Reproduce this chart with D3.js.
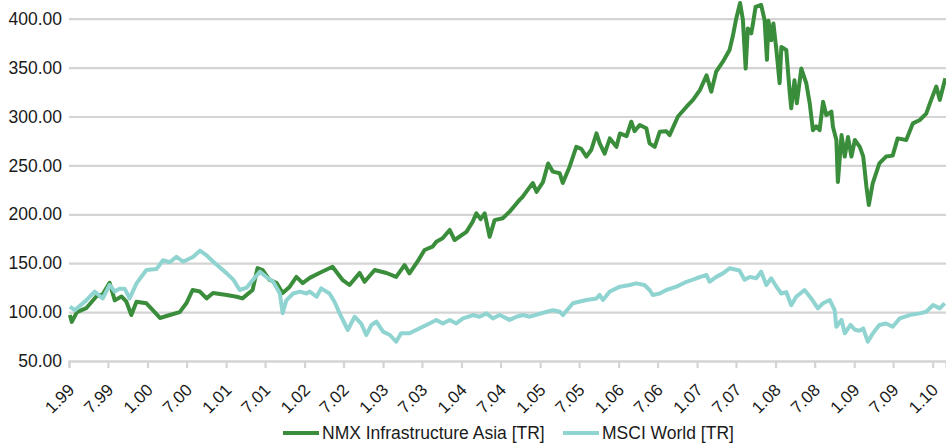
<!DOCTYPE html>
<html>
<head>
<meta charset="utf-8">
<script src="https://cdnjs.cloudflare.com/ajax/libs/d3/7.8.5/d3.min.js"></script>
<style>
  body { margin: 0; background: #fff; }
  text { font-family: "Liberation Sans", Arial, sans-serif; fill: #1a1a1a; }
</style>
</head>
<body>
<div id="chart"></div>
<script>
///////////// data /////////////
var nmxDates = ['1999-01-05','1999-01-14','1999-02-07','1999-03-22','1999-05-08','1999-06-06','1999-07-09','1999-08-02','1999-09-02','1999-09-25',
  '1999-10-18','1999-11-11','1999-12-27','2000-01-26','2000-02-28','2000-04-14','2000-05-30','2000-06-30','2000-07-29','2000-09-01',
  '2000-10-02','2000-11-01','2001-01-04','2001-02-19','2001-03-18','2001-05-04','2001-05-27','2001-06-20','2001-07-22','2001-08-23',
  '2001-09-21','2001-10-24','2001-11-24','2001-12-23','2002-01-25','2002-03-11','2002-05-11','2002-06-26','2002-07-29','2002-09-14',
  '2002-10-07','2002-11-23','2003-01-17','2003-03-03','2003-04-11','2003-05-04','2003-06-10','2003-07-13','2003-08-19','2003-09-06',
  '2003-10-05','2003-11-07','2003-11-30','2004-01-24','2004-02-22','2004-03-10','2004-03-30','2004-04-18','2004-05-11','2004-06-03',
  '2004-07-11','2004-08-12','2004-09-13','2004-09-28','2004-10-12','2004-11-14','2004-11-28','2004-12-15','2005-01-14','2005-02-07',
  '2005-03-01','2005-04-02','2005-04-16','2005-05-18','2005-06-18','2005-07-11','2005-08-04','2005-08-27','2005-09-20','2005-10-05',
  '2005-10-28','2005-11-21','2005-12-22','2006-01-07','2006-02-07','2006-03-01','2006-03-16','2006-04-09','2006-05-10','2006-05-25',
  '2006-06-18','2006-07-11','2006-08-11','2006-08-26','2006-10-04','2006-11-13','2006-12-13','2007-01-14','2007-02-14','2007-03-08',
  '2007-03-31','2007-05-01','2007-06-01','2007-06-16','2007-07-02','2007-07-20','2007-08-02','2007-08-15','2007-08-25','2007-09-10',
  '2007-09-17','2007-09-30','2007-10-26','2007-11-11','2007-11-22','2007-11-29','2007-12-12','2007-12-22','2008-01-05','2008-01-20',
  '2008-01-28','2008-02-20','2008-03-06','2008-03-14','2008-03-29','2008-04-09','2008-04-30','2008-05-23','2008-06-08','2008-06-23',
  '2008-07-08','2008-07-24','2008-08-09','2008-08-24','2008-09-17','2008-09-24','2008-10-10','2008-10-17','2008-11-03','2008-11-18',
  '2008-12-03','2008-12-19','2009-01-04','2009-01-27','2009-02-12','2009-02-27','2009-03-10','2009-03-28','2009-04-28','2009-05-29',
  '2009-06-29','2009-07-22','2009-08-31','2009-10-01','2009-11-02','2009-12-02','2009-12-25','2010-01-18','2010-02-03','2010-03-01'];
var nmxValues = [97,90,100,104,116,118,130,112,116,110.6,
  97,110.6,109,102,94,97,100,109,122.6,121,
  114,119.5,117.5,115.7,114,122.6,145,143,133,130,
  119.5,126,136,129.7,135,140,146.4,133,127.7,140,
  131,143,140,136,148,139.6,151.5,163.5,166.9,172,
  175.5,184,173.7,182,192.4,201,195,201,177,194,
  196,202.7,211,215,218,228,232,223,233,252,
  243.6,242,232,248.7,269,267,259,266,282.7,272.6,
  262,277.6,269,282.7,280,294.7,285,291.3,288,272.6,
  269,284.4,285,281,300,310,317,327,342,325.4,
  346,356,368,382,400,416,399,349,390,385,
  393.6,412,414,398.7,358,398,378,395,368,334,
  371,368,327,308.4,337,313.5,349,334,313.5,286,
  290,286,315,301.5,305,289.5,276,233,281,259,
  279,259,276,269,259,228,209.5,231.7,252,259,
  260,277.6,276,293,296.4,303,317,330.6,317,339];

var msciDates = ['1999-01-05','1999-01-28','1999-03-22','1999-04-30','1999-06-07','1999-07-09','1999-08-02','1999-08-24','1999-09-17','1999-10-10',
  '1999-11-11','1999-12-27','2000-02-12','2000-03-13','2000-04-14','2000-05-15','2000-06-15','2000-08-01','2000-09-01','2000-10-02',
  '2000-11-02','2001-01-04','2001-02-04','2001-03-05','2001-04-06','2001-05-06','2001-06-07','2001-07-07','2001-08-08','2001-09-08',
  '2001-09-21','2001-10-08','2001-11-09','2001-12-10','2002-01-10','2002-01-25','2002-02-26','2002-03-19','2002-04-27','2002-05-20',
  '2002-06-13','2002-07-21','2002-08-22','2002-09-22','2002-10-15','2002-11-08','2002-12-01','2003-01-01','2003-02-02','2003-03-03',
  '2003-03-26','2003-05-04','2003-06-04','2003-07-05','2003-08-05','2003-09-06','2003-10-06','2003-11-07','2003-12-08','2004-01-08',
  '2004-02-24','2004-03-25','2004-04-26','2004-05-26','2004-06-26','2004-08-12','2004-09-13','2004-10-13','2004-11-14','2005-02-01',
  '2005-03-01','2005-04-02','2005-04-17','2005-06-02','2005-08-04','2005-09-20','2005-10-05','2005-10-20','2005-11-21','2006-01-07',
  '2006-02-22','2006-03-23','2006-05-01','2006-05-25','2006-06-09','2006-07-11','2006-08-11','2006-09-27','2006-11-13','2006-12-29',
  '2007-02-14','2007-02-28','2007-03-31','2007-05-01','2007-06-01','2007-07-17','2007-08-10','2007-09-03','2007-10-03','2007-10-26',
  '2007-11-19','2007-12-12','2008-01-05','2008-01-28','2008-02-20','2008-03-14','2008-04-06','2008-05-15','2008-06-15','2008-07-16',
  '2008-08-09','2008-09-09','2008-10-02','2008-10-10','2008-11-03','2008-11-18','2008-12-15','2009-01-04','2009-01-27','2009-02-12',
  '2009-03-05','2009-03-28','2009-04-28','2009-05-29','2009-06-29','2009-08-01','2009-09-16','2009-11-02','2009-12-02','2010-01-03',
  '2010-02-03','2010-02-26'];
var msciValues = [105.5,102,112,121,114,127.7,121,124,124,114,
  129.4,143,144,153,151,156.6,151.5,156.6,162.8,158,
  151.5,139.6,133,122.6,125,133,141.3,136,131,119,
  98.8,112,119,121,119,121,115.7,124.3,119,110.6,
  98.7,81.7,95.3,88,76.6,86.8,90.2,80,76.6,69.7,
  78.3,78.3,81.7,85,88.4,92,88.4,92,88.4,93.6,
  97,95.3,98.7,93.6,97,92,95.3,97,95.3,100.4,
  102,100.4,97,109,112.4,114,117.5,112.4,121,126,
  127.7,129.4,127.7,122.6,117.5,119,122.6,126,131,134.6,
  138,131,136,139.6,144.8,142.5,133,136,134.6,141.3,
  127.7,134.6,126,119,120.5,107,115.7,122.6,114,103.8,
  109,112.4,102,85,92,78.3,87,82,81,83.4,
  69.7,78,86.8,88.4,85,93.6,97,98.7,100.4,107.3,
  103.8,109];

var yTicks = [50, 100, 150, 200, 250, 300, 350, 400];
var seriesNames = ['NMX Infrastructure Asia [TR]', 'MSCI World [TR]'];
var seriesColors = ['#3a8d3a', '#90d4d1'];

///////////// chart /////////////
const svg_width = 946
const svg_height = 448
const left = 69, right = 946, top_y = 18.7, bottom_y = 361

var svg = d3.select('#chart').append('svg')
  .attr('width', svg_width)
  .attr('height', svg_height);

var parse = d3.timeParse('%Y-%m-%d');

var x_scale = d3.scaleTime()
  .domain([parse('1999-01-01'), parse('2010-03-04')])
  .range([left, right]);

var y_scale = d3.scaleLinear()
  .domain([50, 400])
  .range([bottom_y, top_y]);

// horizontal gridlines + y labels
var y_axis = svg.append('g')
  .attr('transform', `translate(${left},0)`)
  .call(d3.axisLeft(y_scale).tickValues(yTicks).tickSize(-(right - left)).tickPadding(7)
    .tickFormat(d3.format('.2f')));
y_axis.select('.domain').remove();
y_axis.selectAll('line').attr('stroke', '#d4d4d4').attr('stroke-width', 2.2);
y_axis.selectAll('text').style('font-size', '17.5px').attr('fill', '#1a1a1a');

// x axis: half-year ticks
var x_ticks = d3.timeMonth.every(6).range(parse('1999-01-01'), parse('2010-02-01'));
var x_axis = svg.append('g')
  .attr('transform', `translate(0,${bottom_y})`)
  .call(d3.axisBottom(x_scale).tickValues(x_ticks).tickSize(7)
    .tickFormat(d3.timeFormat('%-m.%y')));
x_axis.select('.domain').attr('stroke', '#d4d4d4').attr('stroke-width', 2.2);
x_axis.selectAll('line').attr('stroke', '#d4d4d4').attr('stroke-width', 2.2);
x_axis.selectAll('text')
  .style('font-size', '17px')
  .attr('fill', '#1a1a1a')
  .attr('y', 0).attr('dy', 0).attr('x', 0)
  .attr('text-anchor', 'end')
  .attr('transform', 'translate(6,30) rotate(-45)');

// lines
var line = d3.line()
  .x(function(d){ return x_scale(d[0]); })
  .y(function(d){ return y_scale(d[1]); });

var nmx = nmxDates.map(function(d, i){ return [parse(d), nmxValues[i]]; });
var msci = msciDates.map(function(d, i){ return [parse(d), msciValues[i]]; });

svg.append('path').datum(nmx)
  .attr('fill', 'none').attr('stroke', seriesColors[0]).attr('stroke-width', 4)
  .attr('stroke-linejoin', 'round').attr('d', line);
svg.append('path').datum(msci)
  .attr('fill', 'none').attr('stroke', seriesColors[1]).attr('stroke-width', 4)
  .attr('stroke-linejoin', 'round').attr('d', line);

// legend
var legend_x = [283, 563];
seriesNames.forEach(function(name, i){
  var g = svg.append('g').attr('transform', `translate(${legend_x[i]},433)`);
  g.append('line').attr('x1', 0).attr('x2', 36).attr('y1', 0).attr('y2', 0)
    .attr('stroke', seriesColors[i]).attr('stroke-width', 4);
  g.append('text').attr('x', 39).attr('y', 0).attr('dy', '0.35em')
    .style('font-size', '17.5px').text(name);
});
</script>
</body>
</html>
